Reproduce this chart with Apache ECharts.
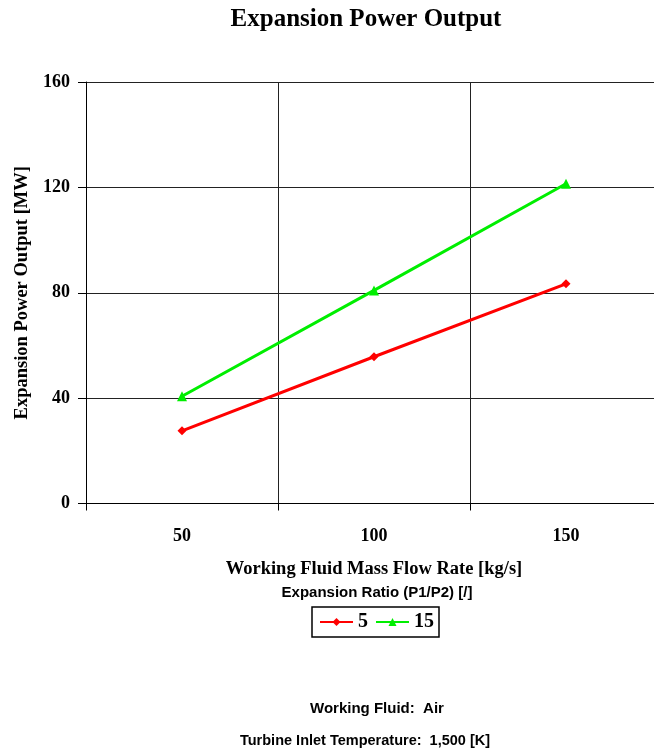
<!DOCTYPE html>
<html><head><meta charset="utf-8">
<script src="https://cdn.jsdelivr.net/npm/echarts@6/dist/echarts.min.js"></script>
<style>html,body{margin:0;padding:0;background:#fff;overflow:hidden}#c{width:670px;height:751px}</style>
</head><body><div id="c"></div>
<script>
const categories = ['50', '100', '150'];
const seriesNames = ['5', '15'];
const ratio5 = [27.6, 55.7, 83.4];
const ratio15 = [40.7, 80.9, 121.4];
const yTicks = [0, 40, 80, 120, 160];

const serif = '"Liberation Serif", "Times New Roman", serif';
const sans = '"Liberation Sans", Arial, sans-serif';
const chart = echarts.init(document.getElementById('c'));
chart.setOption({
  backgroundColor: '#fff',
  animation: false,
  grid: { left: 86, top: 82, width: 576, height: 421.5, containLabel: false },
  xAxis: {
    type: 'category', data: categories, boundaryGap: true,
    name: 'Working Fluid Mass Flow Rate [kg/s]', nameLocation: 'middle', nameGap: 56,
    nameTextStyle: { fontFamily: serif, fontWeight: 'bold', fontSize: 18.5, color: '#000', align: 'center' },
    axisLine: { lineStyle: { color: '#000', width: 1 } },
    axisTick: { show: true, length: 7, inside: false, lineStyle: { color: '#000' } },
    axisLabel: { fontFamily: serif, fontWeight: 'bold', fontSize: 18, color: '#000', margin: 24 },
    splitLine: { show: true, lineStyle: { color: '#222', width: 1 } }
  },
  yAxis: {
    type: 'value', min: yTicks[0], max: yTicks[yTicks.length - 1], interval: 40,
    name: 'Expansion Power Output [MW]', nameLocation: 'middle', nameGap: 52, nameRotate: 90,
    nameTextStyle: { fontFamily: serif, fontWeight: 'bold', fontSize: 18.5, color: '#000' },
    axisLine: { show: true, lineStyle: { color: '#000', width: 1 } },
    axisTick: { show: true, length: 8, lineStyle: { color: '#000' } },
    axisLabel: { fontFamily: serif, fontWeight: 'bold', fontSize: 18, color: '#000', margin: 16 },
    splitLine: { show: true, lineStyle: { color: '#222', width: 1 } }
  },
  legend: {
    data: seriesNames, left: 312, top: 607,
    itemWidth: 33, itemHeight: 10, itemGap: 7,
    padding: [5, 5, 5, 7],
    borderColor: '#000', borderWidth: 1.5,
    textStyle: { fontFamily: serif, fontWeight: 'bold', fontSize: 20, color: '#000' }
  },
  graphic: [
    { type: 'text', x: 366, y: 20, style: { text: 'Expansion Power Output', font: 'bold 25px ' + serif, fill: '#000', align: 'center', verticalAlign: 'middle' } },
    { type: 'text', x: 377, y: 593, style: { text: 'Expansion Ratio (P1/P2) [/]', font: 'bold 15px ' + sans, fill: '#000', align: 'center', verticalAlign: 'middle' } },
    { type: 'text', x: 377, y: 709, style: { text: 'Working Fluid:  Air', font: 'bold 15px ' + sans, fill: '#000', align: 'center', verticalAlign: 'middle' } },
    { type: 'text', x: 365, y: 741, style: { text: 'Turbine Inlet Temperature:  1,500 [K]', font: 'bold 14.5px ' + sans, fill: '#000', align: 'center', verticalAlign: 'middle' } }
  ],
  series: [
    { name: seriesNames[0], type: 'line', data: ratio5, color: '#ff0000', symbol: 'diamond', symbolSize: 9,
      lineStyle: { width: 3 }, itemStyle: { color: '#ff0000' } },
    { name: seriesNames[1], type: 'line', data: ratio15, color: '#00ee00', symbol: 'triangle', symbolSize: 10,
      lineStyle: { width: 3 }, itemStyle: { color: '#00ee00' } }
  ]
});
</script></body></html>
